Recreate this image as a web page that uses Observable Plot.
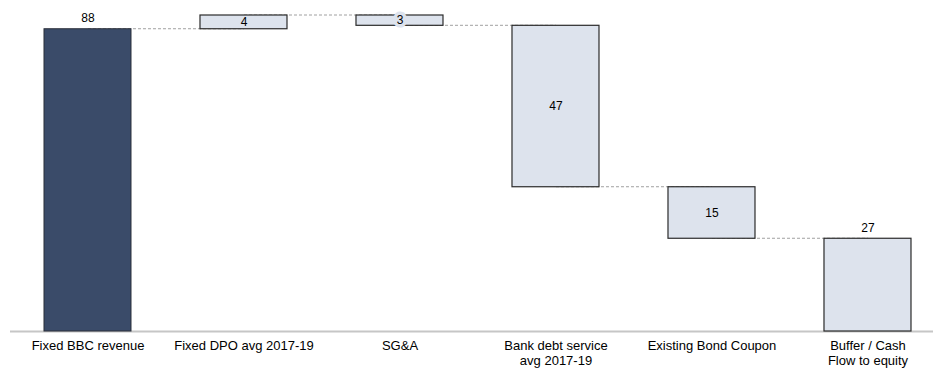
<!DOCTYPE html>
<html>
<head>
<meta charset="utf-8">
<script src="https://cdn.jsdelivr.net/npm/d3@7"></script>
<script src="https://cdn.jsdelivr.net/npm/@observablehq/plot@0.6"></script>
<style>
  html, body { margin: 0; padding: 0; background: #fff; }
  #chart svg { display: block; }
</style>
</head>
<body>
<div id="chart"></div>
<script>
// Cash-flow waterfall: revenue, adjustments, debt service, remaining buffer
const categories = [
  "Fixed BBC revenue",
  "Fixed DPO avg 2017-19",
  "SG&A",
  "Bank debt service avg 2017-19",
  "Existing Bond Coupon",
  "Buffer / Cash Flow to equity"
];
const tickLabels = [
  "Fixed BBC revenue",
  "Fixed DPO avg 2017-19",
  "SG&A",
  "Bank debt service\navg 2017-19",
  "Existing Bond Coupon",
  "Buffer / Cash\nFlow to equity"
];
const values = [88, 4, -3, -47, -15, 27];
const kinds = ["total", "delta", "delta", "delta", "delta", "total"];

// Running levels for each step of the waterfall
let running = 0;
const steps = categories.map((category, i) => {
  let y1, y2;
  if (kinds[i] === "total") {
    y1 = 0; y2 = values[i];
  } else {
    y1 = running; y2 = running + values[i];
  }
  running = y2;
  return {category, value: values[i], kind: kinds[i], i,
          lo: Math.min(y1, y2), hi: Math.max(y1, y2), end: y2};
});
// Dashed connectors run from one step's end level to the next step
const connectors = steps.slice(0, -1).map((s, i) => ({
  from: s.category, to: steps[i + 1].category, level: s.end
}));

const labelOf = new Map(categories.map((c, i) => [c, tickLabels[i]]));
const deltas = steps.filter(d => d.kind === "delta");

const chart = Plot.plot({
  width: 933,
  height: 370,
  marginTop: 15,
  marginBottom: 39,
  marginLeft: 10,
  marginRight: 0,
  style: {fontFamily: "'Liberation Sans', Arial, sans-serif", fontSize: "13px", color: "#000"},
  x: {type: "band", domain: categories, paddingInner: 0.4423, paddingOuter: 0.1795, align: 0.607, round: false},
  y: {domain: [0, 92], axis: null},
  marks: [
    Plot.ruleY([0], {stroke: "#c6c6c6", strokeWidth: 2}),
    // links are centred on the bands; the bars drawn afterwards hide the inner halves
    Plot.link(connectors, {x1: "from", x2: "to", y1: "level", y2: "level",
      stroke: "#a0a0a0", strokeWidth: 1, strokeDasharray: "3,2", dy: -0.5}),
    Plot.rectY(steps.filter(d => d.i === 0), {x: "category", y1: "lo", y2: "hi",
      fill: "#3a4b69", stroke: "#2a2f3a", strokeWidth: 1}),
    Plot.rectY(steps.filter(d => d.i > 0), {x: "category", y1: "lo", y2: "hi",
      fill: "#dde3ed", stroke: "#2b2b2b", strokeWidth: 1.2}),
    Plot.text(steps.filter(d => d.kind === "total"), {x: "category", y: "hi",
      text: d => String(d.value), dy: -11, fontSize: 12, fill: "#000"}),
    // small steps get a filled label box because the digit is taller than the bar
    Plot.text(deltas.filter(d => Math.abs(d.value) < 4), {x: "category", y: d => (d.lo + d.hi) / 2,
      text: d => String(Math.abs(d.value)), fontSize: 12, fill: "#000",
      stroke: "#dde3ed", strokeWidth: 7, strokeLinejoin: "miter"}),
    Plot.text(deltas.filter(d => Math.abs(d.value) >= 4), {x: "category", y: d => (d.lo + d.hi) / 2,
      text: d => String(Math.abs(d.value)), fontSize: 12, fill: "#000"}),
    Plot.axisX({tickSize: 0, tickPadding: 9, tickFormat: d => labelOf.get(d),
      fontSize: 13, lineHeight: 1.08, fill: "#000"})
  ]
});
document.getElementById("chart").appendChild(chart);
</script>
</body>
</html>
